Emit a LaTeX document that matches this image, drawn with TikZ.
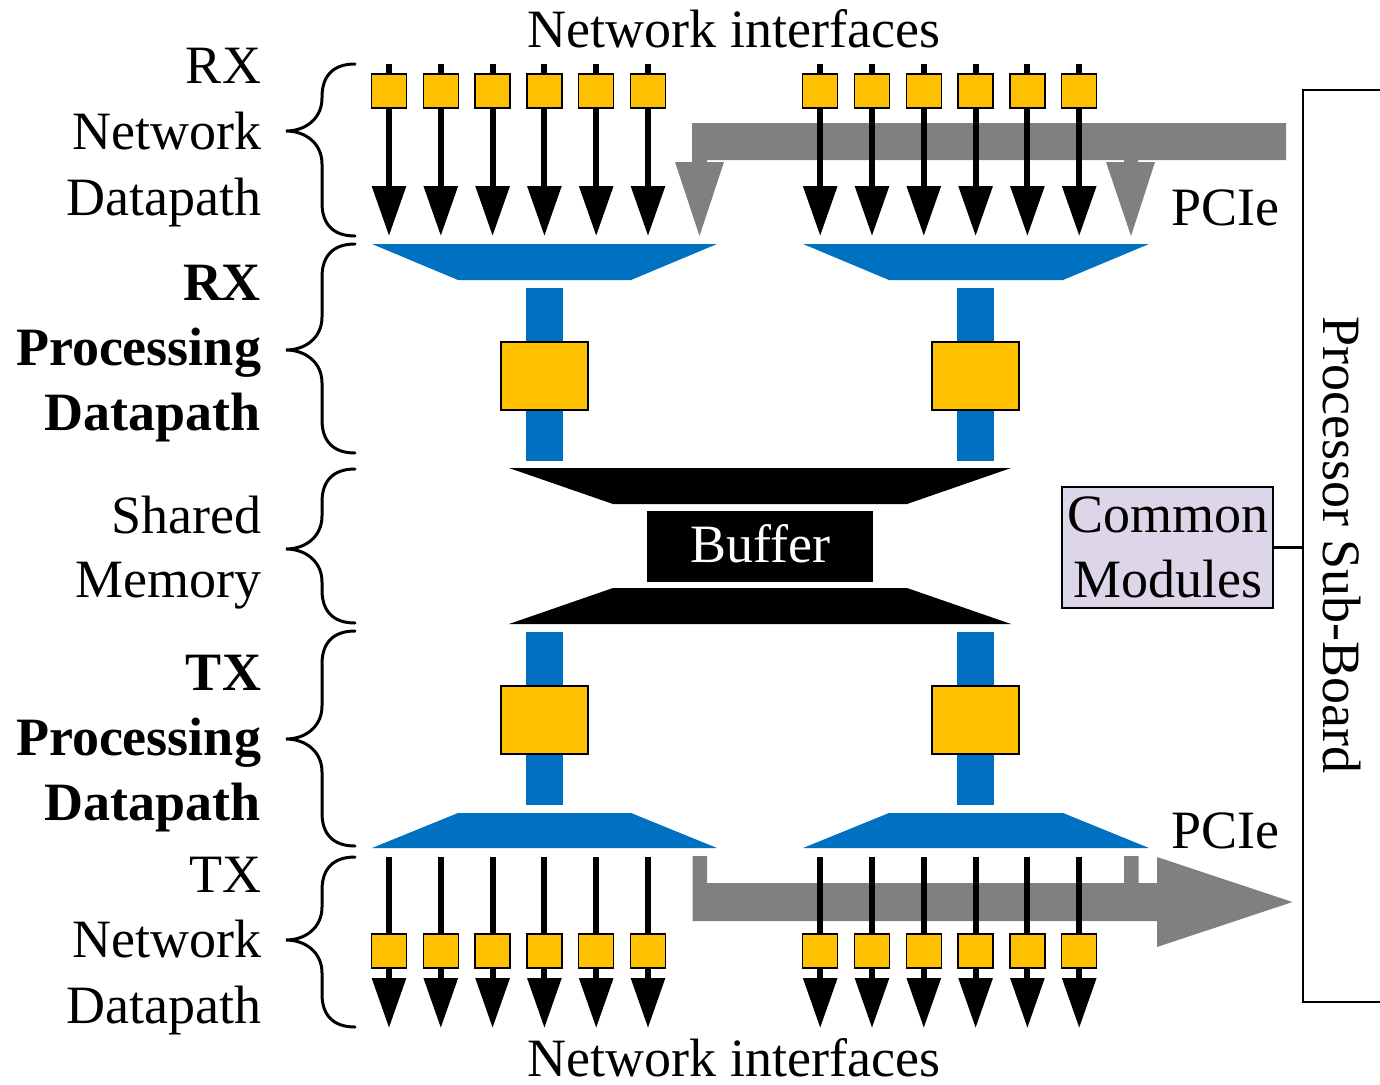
\documentclass[tikz,border=0pt]{standalone}
\usepackage{fontspec}
\setmainfont{Liberation Serif}
\usetikzlibrary{arrows.meta}
\definecolor{ybox}{HTML}{FFC000}
\definecolor{bblue}{HTML}{0070C0}
\definecolor{pgray}{HTML}{808080}
\definecolor{lav}{HTML}{DCD6E8}
\newcommand\mybrace[3]{%
  \draw[brc] (355,#1) .. controls (333,#1) and (322,#1+12) .. (322,#1+33)
    -- (322,#2-33) .. controls (322,#2-12) and (305,#2) .. (286,#2)
    .. controls (305,#2) and (322,#2+12) .. (322,#2+33)
    -- (322,#3-33) .. controls (322,#3-12) and (333,#3) .. (355,#3);}
\begin{document}
\begin{tikzpicture}[x=1pt,y=-1pt,
  port/.style={draw=black,line width=1.5pt,fill=ybox,minimum width=35pt,minimum height=34pt,inner sep=0pt,outer sep=0pt},
  proc/.style={draw=black,line width=1.5pt,fill=ybox,minimum width=87pt,minimum height=68pt,inner sep=0pt,outer sep=0pt},
  netarrow/.style={line width=6pt,-{Triangle[width=33pt,length=50pt]}},
  stub/.style={line width=6pt},
  brc/.style={line width=3pt,line cap=round},
  txt/.style={inner sep=0pt,outer sep=0pt,font=\fontsize{54}{65}\selectfont},
  lbl/.style={txt,anchor=base east},
  blbl/.style={lbl,font=\fontsize{54}{65}\selectfont\bfseries},
]
\useasboundingbox (0,0) rectangle (1380,1084);

% gray PCIe arrows
\fill[pgray] (1286,123) -- (692,123) -- (692,162) -- (675,162) -- (699.5,236) -- (724,162)
  -- (707,162) -- (707,160) -- (1124,160) -- (1124,162) -- (1106,162) -- (1131,236)
  -- (1155,162) -- (1138,162) -- (1138,160) -- (1286,160) -- cycle;
\fill[pgray] (692.5,856) -- (707,856) -- (707,883) -- (1124,883) -- (1124,856) -- (1138.5,856)
  -- (1138.5,883) -- (1157,883) -- (1157,857) -- (1292.5,902) -- (1157,947) -- (1157,921)
  -- (692.5,921) -- cycle;

% blue multiplexers
\fill[bblue] (372,244) -- (717,244) -- (631,280) -- (458,280) -- cycle;
\fill[bblue] (803,244) -- (1149,244) -- (1063,280) -- (889,280) -- cycle;
\fill[bblue] (458,813) -- (631,813) -- (717,848) -- (372,848) -- cycle;
\fill[bblue] (889,813) -- (1063,813) -- (1149,848) -- (803,848) -- cycle;

% blue bars
\fill[bblue] (526,288) rectangle (563,461);
\fill[bblue] (957,288) rectangle (994,461);
\fill[bblue] (526,632) rectangle (563,805);
\fill[bblue] (957,632) rectangle (994,805);

% processing boxes
\node[proc] (rxprocL) at (544.5,376) {};
\node[proc] (rxprocR) at (975.5,376) {};
\node[proc] (txprocL) at (544.5,720) {};
\node[proc] (txprocR) at (975.5,720) {};

% shared memory
\fill[black] (509,468) -- (1011,468) -- (907,504) -- (613,504) -- cycle;
\fill[black] (613,588) -- (907,588) -- (1011,624) -- (509,624) -- cycle;
\node[fill=black,minimum width=226pt,minimum height=71pt,inner sep=0pt,text=white,
  text depth=6.5pt,font=\fontsize{54}{65}\selectfont] (buf) at (760,546.5) {Buffer};

% network ports
\foreach \k in {0,...,5}{
  \pgfmathsetmacro{\xl}{389+51.8*\k}
  \pgfmathsetmacro{\xr}{820.2+51.8*\k}
  \foreach \g/\xx in {L/\xl,R/\xr}{
    \coordinate (rxtop\g\k) at (\xx,64);
    \coordinate (rxtip\g\k) at (\xx,236);
    \node[port] (rxp\g\k) at (\xx,91) {};
    \draw[stub] (rxtop\g\k) -- (rxp\g\k.north);
    \draw[netarrow] (rxp\g\k.south) -- (rxtip\g\k);
    \coordinate (txtop\g\k) at (\xx,857);
    \coordinate (txtip\g\k) at (\xx,1028);
    \node[port] (txp\g\k) at (\xx,951) {};
    \draw[stub] (txtop\g\k) -- (txp\g\k.north);
    \draw[netarrow] (txp\g\k.south) -- (txtip\g\k);
  }
}

% braces
\mybrace{64}{131}{236}
\mybrace{244}{350}{453}
\mybrace{469}{549}{623}
\mybrace{631}{739}{846}
\mybrace{857}{940}{1027}

% left labels
\node[lbl] (l1a) at (261,83) {RX};
\node[lbl] (l1b) at (261,149) {Network};
\node[lbl] (l1c) at (261,215) {Datapath};
\node[blbl] (l2a) at (261,300) {RX};
\node[blbl] (l2b) at (261,365) {Processing};
\node[blbl] (l2c) at (261,430) {Datapath};
\node[lbl] (l3a) at (261,533) {Shared};
\node[lbl] (l3b) at (261,597) {Memory};
\node[blbl] (l4a) at (261,690) {TX};
\node[blbl] (l4b) at (261,755) {Processing};
\node[blbl] (l4c) at (261,820) {Datapath};
\node[lbl] (l5a) at (261,892) {TX};
\node[lbl] (l5b) at (261,957) {Network};
\node[lbl] (l5c) at (261,1023) {Datapath};

% other texts
\node[txt,anchor=base] (nitop) at (734,47) {Network interfaces};
\node[txt,anchor=base] (nibot) at (734,1076) {Network interfaces};
\node[txt,anchor=base west] (pcietop) at (1171,225) {PCIe};
\node[txt,anchor=base west] (pciebot) at (1171,848) {PCIe};

% processor sub-board
\node[draw=black,line width=1.5pt,minimum width=82pt,minimum height=912pt,inner sep=0pt] (psb) at (1344,546) {};
\node[txt,rotate=-90,anchor=base] (psbt) at (1323,545) {Processor Sub-Board};
\node[draw=black,line width=1.5pt,fill=lav,minimum width=211pt,minimum height=121pt,inner sep=0pt,
  align=center,font=\fontsize{54}{65}\selectfont] (cm) at (1167.5,547.5) {Common\\Modules};
\draw[line width=3pt] (cm.east) -- (cm.east -| psb.west);
\end{tikzpicture}
\end{document}
